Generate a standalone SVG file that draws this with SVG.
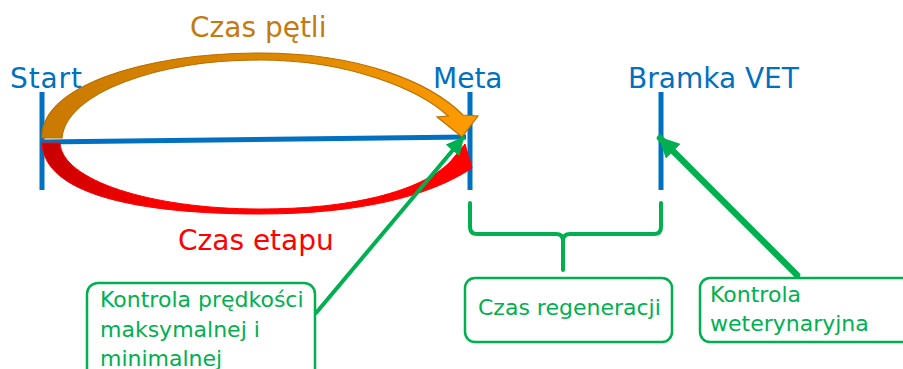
<svg xmlns="http://www.w3.org/2000/svg" width="903" height="369" viewBox="0 0 903 369">
<defs>
<style>
.lbl{font-family:"DejaVu Sans",Verdana,sans-serif;font-size:28px}
.blue{fill:#0070C0}
.box{fill:#fff;stroke:#00B050;stroke-width:2.5}
.bt{font-family:"DejaVu Sans",Verdana,sans-serif;font-size:22px;fill:#00B050}
.post{stroke:#0070C0;stroke-width:5;fill:none}
.grn{stroke:#00B050;fill:none;stroke-linecap:round}
</style>
<linearGradient id="og" x1="0" y1="0" x2="1" y2="0">
<stop offset="0" stop-color="#C97A00"/>
<stop offset="0.6" stop-color="#E08A00"/>
<stop offset="1" stop-color="#FF9C00"/>
</linearGradient>
<linearGradient id="rg" x1="0" y1="0" x2="1" y2="0">
<stop offset="0" stop-color="#C80000"/>
<stop offset="0.3" stop-color="#FF0000"/>
<stop offset="1" stop-color="#FF0000"/>
</linearGradient>
<marker id="ga" viewBox="0 0 10 10" refX="9" refY="5" markerWidth="4.5" markerHeight="4.5" orient="auto" markerUnits="strokeWidth">
<path d="M0,0 L10,5 L0,10 Z" fill="#00B050"/>
</marker>
<marker id="gb" viewBox="0 0 10 10" refX="9" refY="5" markerWidth="3.2" markerHeight="3.2" orient="auto" markerUnits="strokeWidth">
<path d="M0,0 L10,5 L0,10 Z" fill="#00B050"/>
</marker>
</defs>

<g id="labels">
<text class="lbl" x="190" y="37" fill="#C47A10">Czas pętli</text>
<text class="lbl blue" x="10" y="88" textLength="72">Start</text>
<text class="lbl blue" x="433" y="88">Meta</text>
<text class="lbl blue" x="628" y="88">Bramka VET</text>
<text class="lbl" x="178" y="250" fill="#FF0000">Czas etapu</text>
</g>

<g id="posts">
<line class="post" x1="42" y1="92" x2="42" y2="190"/>
<line class="post" x1="470" y1="92" x2="470" y2="190"/>
<line class="post" x1="661" y1="92" x2="661" y2="190"/>
</g>

<g id="connectors">
<line x1="42" y1="142" x2="466" y2="137" stroke="#0070C0" stroke-width="5"/>
<path id="loop" d="M42,138 C40,88 140,53 260,53 C360,53 430,82 463,115 L478,116 L462,137 L437,117 L448,116 C420,90 350,60 260,60 C160,60 66,92 62,138 Z" fill="url(#og)" stroke="#B86E00" stroke-width="1.2" stroke-linejoin="miter"/>
<path id="stage" d="M42,143 L60,143 C62,180 150,209 260,209 C350,209 420,192 450,162 L465,144 L472,168 C430,196 360,214 260,214 C140,214 44,195 42,143 Z" fill="url(#rg)" stroke="#FF0000" stroke-width="1"/>
<line class="grn" x1="316" y1="313" x2="463" y2="138" stroke-width="4" marker-end="url(#ga)"/>
<line class="grn" x1="797" y1="275" x2="660" y2="138" stroke-width="6.5" marker-end="url(#gb)"/>
<path class="grn" stroke-width="4" d="M470,203 L470,227 Q470,234 477,234 L556,234 Q563,234 563,241 L563,270 M563,241 Q563,234 570,234 L654,234 Q661,234 661,227 L661,203"/>
</g>

<g id="box-speed">
<rect class="box" x="87" y="283" width="228" height="100" rx="11"/>
<text class="bt" x="100" y="307">Kontrola prędkości</text>
<text class="bt" x="100" y="337">maksymalnej i</text>
<text class="bt" x="100" y="366">minimalnej</text>
</g>

<g id="box-regen">
<rect class="box" x="465" y="278" width="207" height="64" rx="10"/>
<text class="bt" x="478" y="315">Czas regeneracji</text>
</g>

<g id="box-vet">
<rect class="box" x="700" y="278" width="215" height="64" rx="10"/>
<text class="bt" x="710" y="302">Kontrola</text>
<text class="bt" x="710" y="331">weterynaryjna</text>
</g>
</svg>
